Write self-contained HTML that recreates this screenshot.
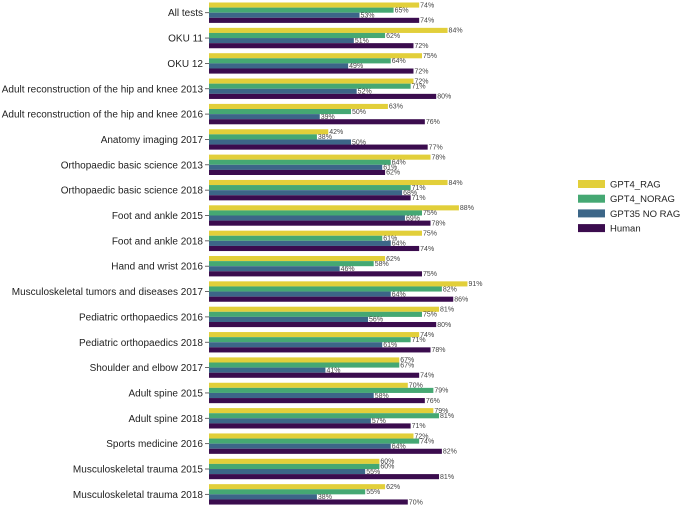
<!DOCTYPE html>
<html><head><meta charset="utf-8"><style>
body{margin:0;background:#fff;}
svg{display:block;font-family:"Liberation Sans",Arial,sans-serif;}
</style></head><body>
<svg id="chart" width="684" height="509"></svg>
<script>
const categories=["All tests","OKU 11","OKU 12","Adult reconstruction of the hip and knee 2013","Adult reconstruction of the hip and knee 2016","Anatomy imaging 2017","Orthopaedic basic science 2013","Orthopaedic basic science 2018","Foot and ankle 2015","Foot and ankle 2018","Hand and wrist 2016","Musculoskeletal tumors and diseases 2017","Pediatric orthopaedics 2016","Pediatric orthopaedics 2018","Shoulder and elbow 2017","Adult spine 2015","Adult spine 2018","Sports medicine 2016","Musculoskeletal trauma 2015","Musculoskeletal trauma 2018"];
const gpt4Rag=[74,84,75,72,63,42,78,84,88,75,62,91,81,74,67,70,79,72,60,62];
const gpt4NoRag=[65,62,64,71,50,38,64,71,75,61,58,82,75,71,67,79,81,74,60,55];
const gpt35NoRag=[53,51,49,52,39,50,61,68,69,64,46,64,56,61,41,58,57,64,55,38];
const human=[74,72,72,80,76,77,62,71,78,74,75,86,80,78,74,76,71,82,81,70];
const seriesNames=["GPT4_RAG","GPT4_NORAG","GPT35 NO RAG","Human"];
const seriesColors=["#e2cf3a","#45a873","#3c6688","#3b0c4e"];
const series=[gpt4Rag,gpt4NoRag,gpt35NoRag,human];
const NS="http://www.w3.org/2000/svg";
const svg=document.getElementById("chart");
const x0=209, pxPer=2.84;
function xs(v){return x0+v*pxPer;}
function yGroup(i){return 2.5+i*25.35;}
const barH=5.1;
function mk(t,a){const e=document.createElementNS(NS,t);for(const k in a)e.setAttribute(k,a[k]);svg.appendChild(e);return e;}
categories.forEach((c,i)=>{
  const yc=yGroup(i)+barH*2;
  const lab=mk("text",{x:203,y:yc+3.5,"font-size":"10","text-anchor":"end",fill:"#222"});
  lab.textContent=c;
  
  
  const tk=mk("line",{x1:205,x2:209,y1:yc,y2:yc,stroke:"#444","stroke-width":"0.8"});
  
  
  series.forEach((s,j)=>{
    const y=yGroup(i)+j*barH;
    const r=mk("rect",{x:x0,y:y,width:xs(s[i])-x0,height:barH,fill:seriesColors[j]});
    
    
    const bg=mk("rect",{x:xs(s[i])+0.5,y:y+0.3,width:15,height:barH-0.6,fill:"#fff"});
    
    
    const t=mk("text",{x:xs(s[i])+1,y:y+barH-0.3,"font-size":"7","fill":"#444"});
    t.textContent=s[i]+"%";
    
    
  });
});
seriesNames.forEach((n,j)=>{
  const y=180+j*14.7;
  const r=mk("rect",{x:578,y:y,width:27,height:8,fill:seriesColors[j]});
  
  
  const t=mk("text",{x:610,y:y+7.5,"font-size":"9.5",fill:"#222"});
  t.textContent=n;
  
  
});
</script>
</body></html>
